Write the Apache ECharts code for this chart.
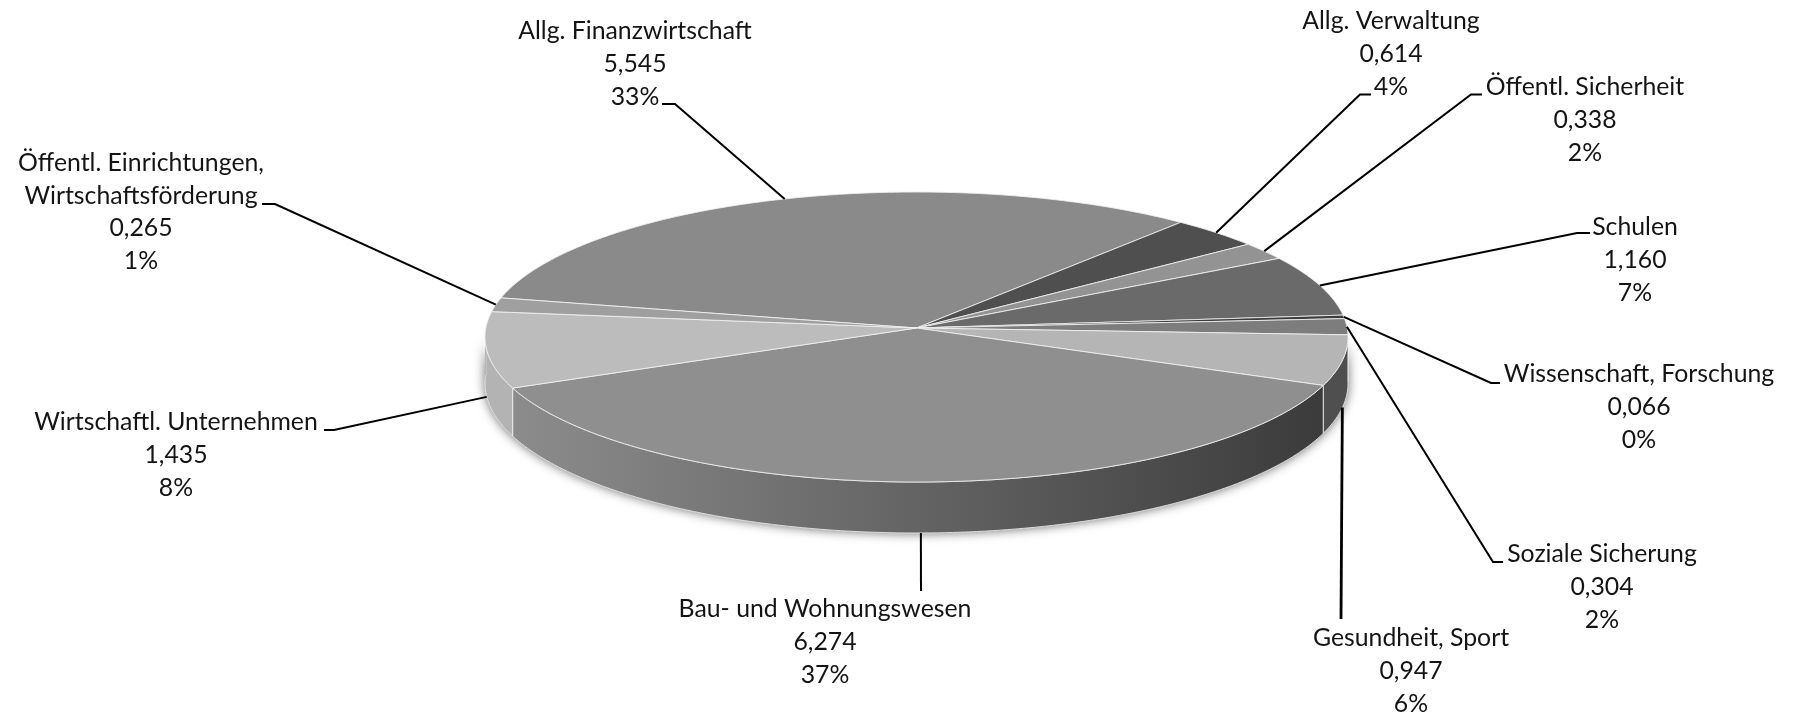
<!DOCTYPE html>
<html><head><meta charset="utf-8">
<style>html,body{margin:0;padding:0;background:#fff}#c{width:1794px;height:715px}</style>
<script src="https://cdn.jsdelivr.net/npm/echarts@6/dist/echarts.min.js"></script>
</head><body><div id="c"></div>
<script>
// ---- data ----
const categories = [
  ['Allg. Finanzwirtschaft'],['Allg. Verwaltung'],['Öffentl. Sicherheit'],['Schulen'],
  ['Wissenschaft, Forschung'],['Soziale Sicherung'],['Gesundheit, Sport'],['Bau- und Wohnungswesen'],
  ['Wirtschaftl. Unternehmen'],['Öffentl. Einrichtungen,','Wirtschaftsförderung']
];
const values = [5.545,0.614,0.338,1.160,0.066,0.304,0.947,6.274,1.435,0.265];
const valueLabels = ['5,545','0,614','0,338','1,160','0,066','0,304','0,947','6,274','1,435','0,265'];
const percentLabels = ['33%','4%','2%','7%','0%','2%','6%','37%','8%','1%'];

// ---- styles / layout ----
const topColors = ['#8a8a8a','#4f4f4f','#939393','#6a6a6a','#3c3c3c','#7d7d7d','#b5b5b5','#8f8f8f','#bcbcbc','#9f9f9f'];
const wallColors = {6:'#4f4f4f',8:'#b3b3b3'};
const labelCenters = [[635,64],[1391,54],[1585,120],[1635,260],[1639,407],[1602,587],[1411,671],[825,642],[176,455],[141,212]];
const leaderTails = [
  [[675,104],[662,104]],[[1360,94.5],[1371,94.5]],[[1471,94.5],[1482,94.5]],[[1577,233],[1590,233]],
  [[1491,383],[1500,383]],[[1493,562],[1503,562]],[[1341,619]],[[921,591]],[[334,430],[324,430]],[[275,204],[262,204]]
];
const CX=916.5, CY=337, RX=431.5, RY=145, B=-0.062, START=192.2;
const FONT='Lato', FS=24.8, LH=32.6;

// ---- geometry ----
const total = values.reduce((a,b)=>a+b,0);
const D=Math.PI/180;
function project(deg,r){
  const u=r*Math.cos(deg*D), v=r*Math.sin(deg*D), w=1+B*v;
  return [u*Math.sqrt(1-B*B)/w,(v+B)/w];
}
function rim(deg){const p=project(deg,1);return [CX+RX*p[0],CY+RY*p[1]];}
function rimLow(deg){const p=project(deg,1);return [CX+RX*p[0],CY+RY*p[1]+46.5+4.5*p[1]];}
const apex=[CX+RX*project(0,0)[0],CY+RY*project(0,0)[1]];
function spans(){
  let a=START;const out=[];
  values.forEach(v=>{const s=v/total*360;out.push([a,a+s]);a+=s;});
  return out;
}
const angles=spans();
function arc(f,a,b){const n=Math.max(2,Math.ceil(Math.abs(b-a)));const p=[];for(let i=0;i<=n;i++)p.push(f(a+(b-a)*i/n));return p;}
function wallRange(a,b){
  const out=[];
  [-360,0,360].forEach(k=>{const s=Math.max(a+k,0),e=Math.min(b+k,180);if(e>s)out.push([s,e]);});
  return out;
}
const WHITE='rgba(240,240,240,0.85)';

const chart=echarts.init(document.getElementById('c'),null,{renderer:'canvas'});
chart.setOption({
  animation:false,
  backgroundColor:'#fff',
  series:[
    {type:'custom',coordinateSystem:'none',z:1,silent:true,clip:false,data:[[total]],
     renderItem(){
       const pts=arc(rim,4,176).concat(arc(rimLow,4,176).reverse());
       return {type:'polygon',shape:{points:pts},
         style:{fill:'#555',shadowBlur:11,shadowColor:'rgba(0,0,0,0.6)',shadowOffsetX:0,shadowOffsetY:0}};
     }},
    {type:'custom',coordinateSystem:'none',z:2,silent:true,clip:false,
     data:values.map((v,i)=>[v,i]),
     renderItem(params,api){
       const i=api.value(1);
       const [a,b]=angles[i];
       const kids=[];
       wallRange(a,b).forEach(([s,e])=>{
         const pts=arc(rim,s,e).concat(arc(rimLow,s,e).reverse());
         const fill=wallColors[i]||{type:'linear',global:true,x:512,y:0,x2:1324,y2:0,
           colorStops:[{offset:0,color:'#8c8c8c'},{offset:1,color:'#3b3b3b'}]};
         kids.push({type:'polygon',z2:1,shape:{points:pts},style:{fill,stroke:WHITE,lineWidth:1}});
       });
       const top=[apex].concat(arc(rim,a,b));
       kids.push({type:'polygon',z2:2,shape:{points:top},
         style:{fill:topColors[i],stroke:WHITE,lineWidth:1,lineJoin:'round'}});
       return {type:'group',children:kids};
     }},
    {type:'custom',coordinateSystem:'none',z:3,silent:true,clip:false,
     data:values.map((v,i)=>[v,i]),
     renderItem(params,api){
       const i=api.value(1);
       const [a,b]=angles[i];
       const mid=(a+b)/2, onWall=Math.sin(mid*D)>0.06;
       const start=onWall?rimLow(mid):rim(mid);
       const pts=[start].concat(leaderTails[i]);
       const text=categories[i].concat([valueLabels[i],percentLabels[i]]).join('\n');
       return {type:'group',children:[
         {type:'polyline',shape:{points:pts},style:{fill:'none',stroke:'#000',lineWidth:i===6?2.8:2}},
         {type:'text',style:{text,x:labelCenters[i][0],y:labelCenters[i][1],align:'center',verticalAlign:'middle',
           fontFamily:FONT,fontSize:FS,lineHeight:LH,fill:'#141414'}}
       ]};
     }}
  ]
});
</script></body></html>
